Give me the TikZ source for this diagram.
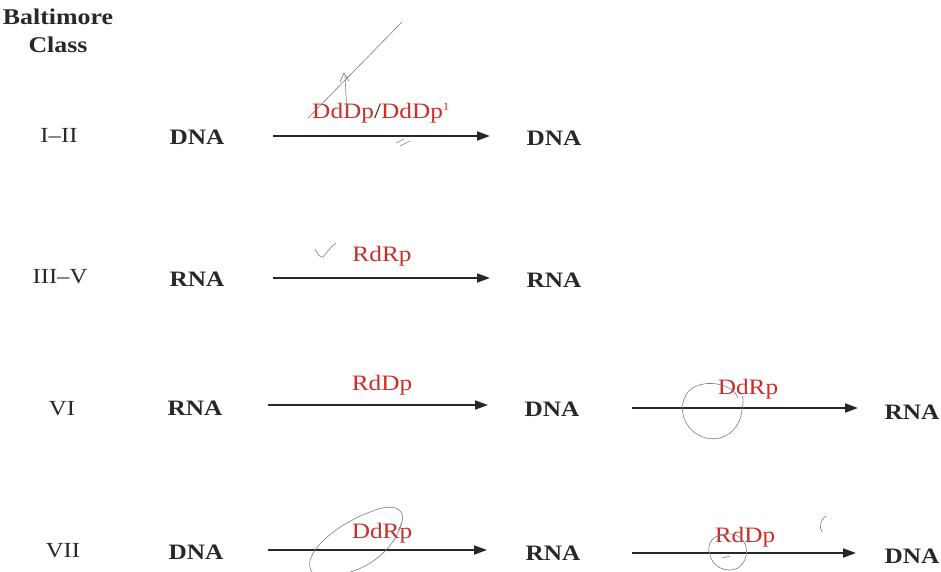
\documentclass[tikz,border=0pt]{standalone}
\usepackage{fontspec}
\setmainfont[FakeStretch=1.15]{Liberation Serif}
\usetikzlibrary{arrows.meta}
\definecolor{ink}{RGB}{40,40,40}
\definecolor{enz}{RGB}{205,45,40}
\definecolor{pen}{RGB}{120,125,140}
\begin{document}
\begin{tikzpicture}[x=1pt,y=-1pt,
  mol/.style={font=\fontsize{22}{24}\selectfont\bfseries, text=ink, inner sep=0pt},
  cls/.style={font=\fontsize{21.5}{24}\selectfont, text=ink, inner sep=0pt},
  enzyme/.style={font=\fontsize{22}{25}\selectfont, text=enz, inner sep=0pt},
  conv/.style={line width=1.8pt, draw=ink, -{Triangle[length=13pt,width=9pt]}},
  penline/.style={draw=pen, line width=0.6pt}]
\useasboundingbox (0,0) rectangle (941,572);

% column header
\node[font=\fontsize{22.5}{28}\selectfont\bfseries, text=ink, align=center, inner sep=0pt] (hdr)
  at (58,31) {Baltimore\\Class};

% class labels
\node[cls] (c1) at (59,135) {I--II};
\node[cls] (c2) at (60,277) {III--V};
\node[cls] (c3) at (62,409) {VI};
\node[cls] (c4) at (63,551) {VII};

% molecules
\node[mol] (a1) at (197,137) {DNA};
\node[mol] (b1) at (554,138) {DNA};
\node[mol] (a2) at (197,279) {RNA};
\node[mol] (b2) at (554,280) {RNA};
\node[mol] (a3) at (195,408) {RNA};
\node[mol] (b3) at (552,409) {DNA};
\node[mol] (d3) at (912,412) {RNA};
\node[mol] (a4) at (196,552) {DNA};
\node[mol] (b4) at (553,553) {RNA};
\node[mol] (d4) at (912,556) {DNA};

% conversion arrows
\coordinate (s1) at (273,136); \coordinate (t1) at (490,136);
\coordinate (s2) at (273,278); \coordinate (t2) at (490,278);
\coordinate (s3) at (268,405); \coordinate (t3) at (488,405);
\coordinate (u3) at (632,408); \coordinate (v3) at (858,408);
\coordinate (s4) at (268,550); \coordinate (t4) at (487,550);
\coordinate (u4) at (632,553); \coordinate (v4) at (856,553);
\draw[conv] (s1) -- (t1);
\draw[conv] (s2) -- (t2);
\draw[conv] (s3) -- (t3);
\draw[conv] (u3) -- (v3);
\draw[conv] (s4) -- (t4);
\draw[conv] (u4) -- (v4);

% enzymes
\node[enzyme] (e1) at (381,113) {DdDp\textcolor{ink}{/}DdDp\textsuperscript{\fontsize{11}{12}\selectfont 1}};
\node[enzyme] (e2) at (382,256) {RdRp};
\node[enzyme] (e3) at (382,385) {RdDp};
\node[enzyme] (e4) at (748,389) {DdRp};
\node[enzyme] (e5) at (382,533) {DdRp};
\node[enzyme] (e6) at (745,537) {RdDp};

% pen marks
\draw[penline] (308,118) -- (402,22);
\draw[penline] (347,114) -- (345,76);
\draw[penline] (340,82) -- (344,73) -- (349,81);
\draw[penline] (396,143) -- (404,139) (400,146) -- (410,141);
\draw[penline] (315,249) .. controls (318,254) and (320,258) .. (323,257) .. controls (326,254) and (330,247) .. (336,243);
\draw[penline] (738,398) .. controls (732,382) and (700,378) .. (688,392)
  .. controls (676,408) and (684,432) .. (706,438)
  .. controls (724,442) and (740,430) .. (742,410) .. controls (743,404) and (744,398) .. (742,396);
\draw[penline] (398,530) .. controls (410,512) and (398,500) .. (370,512)
  .. controls (335,525) and (300,555) .. (312,572);
\draw[penline] (402,522) .. controls (396,545) and (375,565) .. (350,572);
\draw[penline] (710,555) .. controls (704,540) and (720,530) .. (735,535)
  .. controls (750,540) and (750,560) .. (738,568)
  .. controls (726,574) and (712,566) .. (710,555);
\draw[penline] (722,558) -- (730,556);
\draw[penline] (826,516) .. controls (820,520) and (819,527) .. (822,532);
\end{tikzpicture}
\end{document}
